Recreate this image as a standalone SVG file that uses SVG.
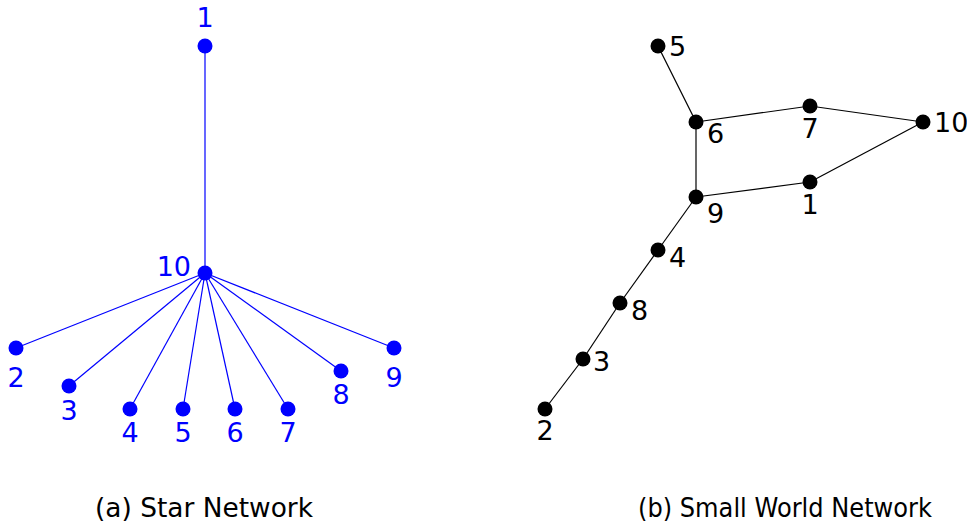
<svg xmlns="http://www.w3.org/2000/svg" width="967" height="529" viewBox="0 0 967 529">
<style>
.bg{fill:#fff}
.se{stroke:#0000ff;stroke-width:1.2;fill:none}
.we{stroke:#000;stroke-width:1.2;fill:none}
.sn{fill:#0000ff}
.wn{fill:#000}
.sl{fill:#0000ff;font-family:"DejaVu Sans",sans-serif;font-size:27px}
.wl{fill:#000;font-family:"DejaVu Sans",sans-serif;font-size:27px}
.cap{fill:#000;font-family:"DejaVu Sans",sans-serif;font-size:26px}
.m{text-anchor:middle}
.e{text-anchor:end}
</style>
<rect class="bg" x="0" y="0" width="967" height="529"/>
<g id="star-edges">
<line class="se" x1="205" y1="46" x2="205" y2="273"/>
<line class="se" x1="205" y1="273" x2="16" y2="348"/>
<line class="se" x1="205" y1="273" x2="69" y2="386"/>
<line class="se" x1="205" y1="273" x2="130" y2="409"/>
<line class="se" x1="205" y1="273" x2="183" y2="409"/>
<line class="se" x1="205" y1="273" x2="235" y2="409"/>
<line class="se" x1="205" y1="273" x2="288" y2="409"/>
<line class="se" x1="205" y1="273" x2="341" y2="371"/>
<line class="se" x1="205" y1="273" x2="394" y2="348"/>
</g>
<g id="a1"><circle class="sn" cx="205" cy="46" r="7.5"/><text class="sl m" x="205" y="27">1</text></g>
<g id="a10"><circle class="sn" cx="205" cy="273" r="7.5"/><text class="sl e" x="191" y="276">10</text></g>
<g id="a2"><circle class="sn" cx="16" cy="348" r="7.5"/><text class="sl m" x="16" y="387">2</text></g>
<g id="a3"><circle class="sn" cx="69" cy="386" r="7.5"/><text class="sl m" x="69" y="420">3</text></g>
<g id="a4"><circle class="sn" cx="130" cy="409" r="7.5"/><text class="sl m" x="130" y="442">4</text></g>
<g id="a5"><circle class="sn" cx="183" cy="409" r="7.5"/><text class="sl m" x="183" y="442">5</text></g>
<g id="a6"><circle class="sn" cx="235" cy="409" r="7.5"/><text class="sl m" x="235" y="442">6</text></g>
<g id="a7"><circle class="sn" cx="288" cy="409" r="7.5"/><text class="sl m" x="288" y="442">7</text></g>
<g id="a8"><circle class="sn" cx="341" cy="371" r="7.5"/><text class="sl m" x="341" y="404">8</text></g>
<g id="a9"><circle class="sn" cx="394" cy="348" r="7.5"/><text class="sl m" x="394" y="387">9</text></g>
<g id="sw-edges">
<line class="we" x1="658" y1="46" x2="696" y2="122"/>
<line class="we" x1="696" y1="122" x2="810" y2="106"/>
<line class="we" x1="810" y1="106" x2="923" y2="122"/>
<line class="we" x1="923" y1="122" x2="810" y2="182"/>
<line class="we" x1="810" y1="182" x2="696" y2="197"/>
<line class="we" x1="696" y1="122" x2="696" y2="197"/>
<line class="we" x1="696" y1="197" x2="658" y2="250"/>
<line class="we" x1="658" y1="250" x2="620" y2="303"/>
<line class="we" x1="620" y1="303" x2="583" y2="359"/>
<line class="we" x1="583" y1="359" x2="545" y2="409"/>
</g>
<g id="b5"><circle class="wn" cx="658" cy="46" r="7.5"/><text class="wl" x="669" y="56">5</text></g>
<g id="b6"><circle class="wn" cx="696" cy="122" r="7.5"/><text class="wl" x="707" y="143">6</text></g>
<g id="b7"><circle class="wn" cx="810" cy="106" r="7.5"/><text class="wl m" x="810" y="138">7</text></g>
<g id="b10"><circle class="wn" cx="923" cy="122" r="7.5"/><text class="wl" x="934" y="132">10</text></g>
<g id="b1"><circle class="wn" cx="810" cy="182" r="7.5"/><text class="wl m" x="810" y="214">1</text></g>
<g id="b9"><circle class="wn" cx="696" cy="197" r="7.5"/><text class="wl" x="707" y="223">9</text></g>
<g id="b4"><circle class="wn" cx="658" cy="250" r="7.5"/><text class="wl" x="669" y="267">4</text></g>
<g id="b8"><circle class="wn" cx="620" cy="303" r="7.5"/><text class="wl" x="631" y="320">8</text></g>
<g id="b3"><circle class="wn" cx="583" cy="359" r="7.5"/><text class="wl" x="593" y="371">3</text></g>
<g id="b2"><circle class="wn" cx="545" cy="409" r="7.5"/><text class="wl m" x="545" y="440">2</text></g>
<text class="cap" x="95" y="517" textLength="218" lengthAdjust="spacingAndGlyphs">(a) Star Network</text>
<text class="cap" x="638" y="517" textLength="294" lengthAdjust="spacingAndGlyphs">(b) Small World Network</text>
</svg>
